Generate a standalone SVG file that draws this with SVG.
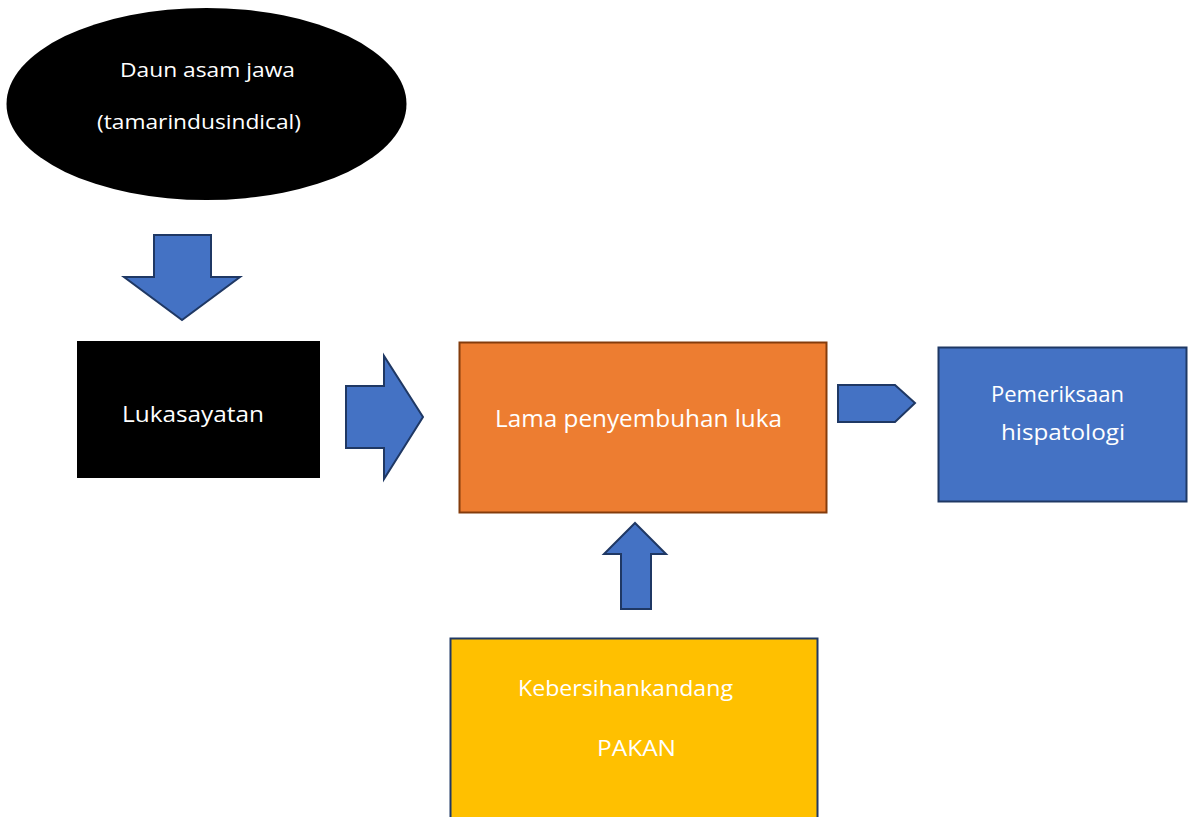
<svg xmlns="http://www.w3.org/2000/svg" width="1193" height="817" viewBox="0 0 1193 817">
<style>
text{font-family:"Open Sans","Noto Sans","Liberation Sans",sans-serif;fill:#ffffff;}
.arrow{fill:#4472C4;stroke:#1F3864;stroke-width:2;stroke-linejoin:miter;}
</style>
<rect x="0" y="0" width="1193" height="817" fill="#ffffff"/>
<g id="node-daun">
<ellipse cx="206.5" cy="104" rx="200" ry="96" fill="#000000"/>
<text x="120" y="77" font-size="20" textLength="175" lengthAdjust="spacingAndGlyphs">Daun asam jawa</text>
<text x="97" y="129" font-size="20" textLength="204" lengthAdjust="spacingAndGlyphs">(tamarindusindical)</text>
</g>
<g id="node-luka">
<rect x="77" y="341" width="243" height="137" fill="#000000"/>
<text x="122" y="422" font-size="22" textLength="142" lengthAdjust="spacingAndGlyphs">Lukasayatan</text>
</g>
<g id="node-lama">
<rect x="459.5" y="342.5" width="367" height="170" fill="#ED7D31" stroke="#843C0C" stroke-width="2"/>
<text x="495" y="427" font-size="23" textLength="287" lengthAdjust="spacingAndGlyphs">Lama penyembuhan luka</text>
</g>
<g id="node-pemeriksaan">
<rect x="938.5" y="347.5" width="248" height="154" fill="#4472C4" stroke="#1F3864" stroke-width="2"/>
<text x="991" y="402" font-size="22" textLength="133" lengthAdjust="spacingAndGlyphs">Pemeriksaan</text>
<text x="1001" y="440" font-size="22" textLength="124" lengthAdjust="spacingAndGlyphs">hispatologi</text>
</g>
<g id="node-kebersihan">
<rect x="450.5" y="638.5" width="367" height="190" fill="#FFC000" stroke="#1F3864" stroke-width="2"/>
<text x="518" y="696" font-size="22" textLength="215" lengthAdjust="spacingAndGlyphs">Kebersihankandang</text>
<text x="597" y="756" font-size="22" textLength="79" lengthAdjust="spacingAndGlyphs">PAKAN</text>
</g>
<g id="connectors">
<polygon class="arrow" points="154,235 211,235 211,277 240,277 182,320 124,277 154,277"/>
<polygon class="arrow" points="346,386 384,386 384,356 423,417 384,479 384,448 346,448"/>
<polygon class="arrow" points="838,385 895,385 915,403 895,422 838,422"/>
<polygon class="arrow" points="621,609 621,554 604,554 635,523 666,554 651,554 651,609"/>
</g>
</svg>
